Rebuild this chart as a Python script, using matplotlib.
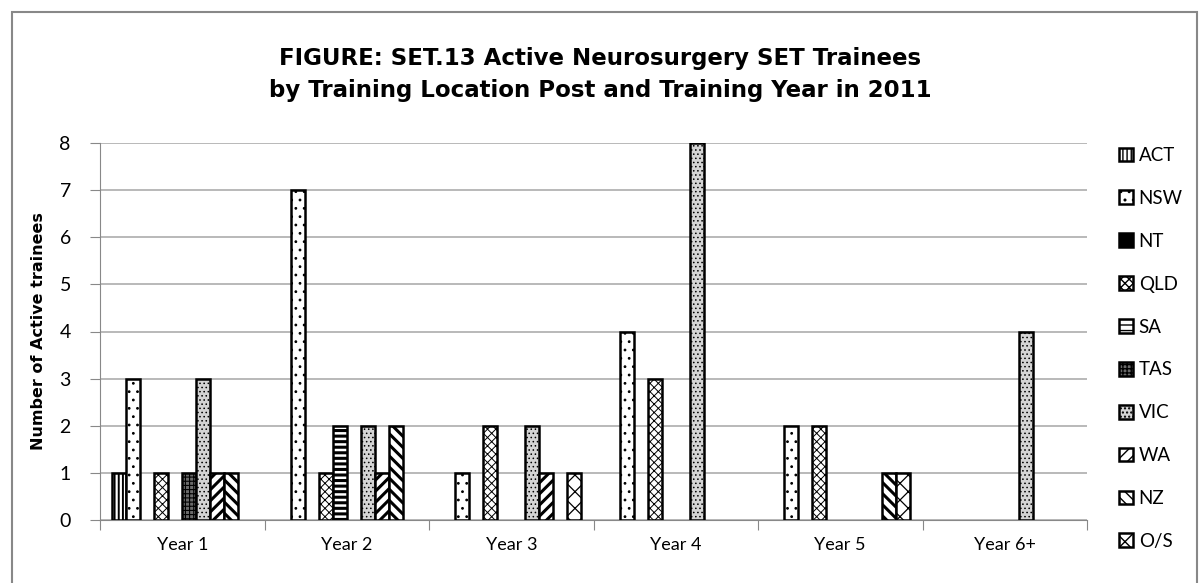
import matplotlib.pyplot as plt
import numpy as np
from matplotlib.patches import Rectangle

years = ['Year 1', 'Year 2', 'Year 3', 'Year 4', 'Year 5', 'Year 6+']
states = ['ACT', 'NSW', 'NT', 'QLD', 'SA', 'TAS', 'VIC', 'WA', 'NZ', 'O/S']

ACT = [1, 0, 0, 0, 0, 0]
NSW = [3, 7, 1, 4, 2, 0]
NT = [0, 0, 0, 0, 0, 0]
QLD = [1, 1, 2, 3, 2, 0]
SA = [0, 2, 0, 0, 0, 0]
TAS = [1, 0, 0, 0, 0, 0]
VIC = [3, 2, 2, 8, 0, 4]
WA = [1, 1, 1, 0, 0, 0]
NZ = [1, 2, 0, 0, 1, 0]
OS = [0, 0, 1, 0, 1, 0]
series = [ACT, NSW, NT, QLD, SA, TAS, VIC, WA, NZ, OS]

# look of each series (excel pattern fills)
faces = ['white', 'white', 'black', 'white', 'white', '#6a6a6a', '#d4d4d4', 'white', 'white', 'white']
hatches = ['||||', '..', '..', 'xxxx', '---', '++++', '....', '///', '\\\\\\', 'xx']
hlw = [1.4, 0.8, 0.8, 0.7, 2.2, 0.8, 0.6, 2.2, 2.2, 0.9]

plt.rcParams['font.family'] = ['Lato', 'DejaVu Sans']

fig = plt.figure(figsize=(12, 5.83), dpi=100)
ax = fig.add_axes([100/1200, 1-520/583, 987/1200, 377/583])

x = np.arange(len(years))
w = 0.0853
for i in range(len(series)):
	vals = np.array(series[i], dtype=float)
	vals[vals == 0] = np.nan
	with plt.rc_context({'hatch.linewidth': hlw[i]}):
		ax.bar(x + (i - 4.5)*w, vals, w, color=faces[i], edgecolor='black',
			linewidth=1.8, hatch=hatches[i], label=states[i], zorder=3)

ax.set_xlim(-0.5, 5.5)
ax.set_ylim(0, 8)
ax.set_yticks(range(0, 9))
ax.yaxis.grid(True, color='#a6a6a6', linewidth=1.1, zorder=0)
ax.set_xticks(np.arange(-0.5, 6, 1))
ax.set_xticklabels([])
ax.set_xticks(x, minor=True)
ax.set_xticklabels(years, minor=True, fontsize=13)
ax.tick_params(axis='x', which='major', length=7, color='#888888')
ax.tick_params(axis='x', which='minor', length=0, pad=12)
ax.tick_params(axis='y', length=7, color='#888888', labelsize=14, pad=14)
for s in ['top', 'right']:
	ax.spines[s].set_visible(False)
ax.spines['left'].set_color('#888888')
ax.spines['bottom'].set_color('#888888')

ax.set_ylabel('Number of Active trainees', fontsize=11.5, fontweight='bold',
	family='DejaVu Sans', labelpad=10)

fig.text(0.5, 1-58/583, 'FIGURE: SET.13 Active Neurosurgery SET Trainees',
	ha='center', va='center', fontsize=16.5, fontweight='bold', family='DejaVu Sans')
fig.text(0.5, 1-90/583, 'by Training Location Post and Training Year in 2011',
	ha='center', va='center', fontsize=16.5, fontweight='bold', family='DejaVu Sans')

leg = ax.legend(loc='upper left', bbox_to_anchor=(1119/1200, 1-147/583),
	bbox_transform=fig.transFigure, frameon=False, fontsize=13.5,
	handlelength=0.75, handleheight=0.75, handletextpad=0.3, labelspacing=1.38,
	borderpad=0, borderaxespad=0)

fig.patches.append(Rectangle((12/1200, -0.05), 1185/1200, 1.05-12/583,
	transform=fig.transFigure, fill=False, edgecolor='#888888', linewidth=1.5))

plt.savefig('out.png', dpi=100)
plt.close()
